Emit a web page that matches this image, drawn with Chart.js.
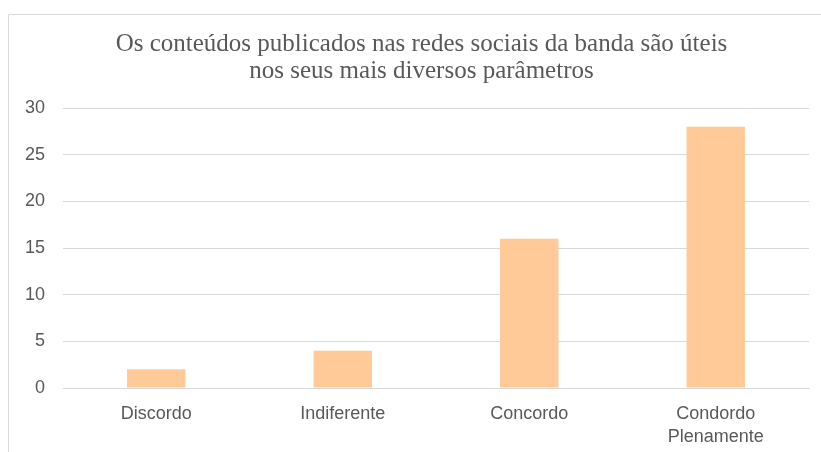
<!DOCTYPE html>
<html>
<head>
<meta charset="utf-8">
<script src="https://cdn.jsdelivr.net/npm/chart.js@4"></script>
<style>
  html, body { margin: 0; padding: 0; background: #fff; }
  #wrap { width: 821px; height: 452px; }
</style>
</head>
<body>
<div id="wrap"><canvas id="chart" width="821" height="452"></canvas></div>
<script>
// ── Data ──
const categories = ['Discordo', 'Indiferente', 'Concordo', ['Condordo', 'Plenamente']];
const values     = [2, 4, 16, 28];
const titleLines = ['Os conteúdos publicados nas redes sociais da banda são úteis', 'nos seus mais diversos parâmetros'];
const yMin = 0, yMax = 30, yStep = 5;

const textColor = '#595959';
const gridColor = '#d9d9d9';
const sansFont  = '"Liberation Sans", sans-serif';

// frame around the chart (left and top edges are visible)
const framePlugin = {
  id: 'frame',
  afterLayout(chart) {
    // title in the original sits centred on the whole frame, not the plot
    if (chart.titleBlock) chart.titleBlock.left = 34;
  },
  beforeDraw(chart) {
    const ctx = chart.ctx;
    ctx.save();
    ctx.strokeStyle = '#d9d9d9';
    ctx.lineWidth = 1;
    ctx.beginPath();
    ctx.moveTo(8.5, chart.height);
    ctx.lineTo(8.5, 14.5);
    ctx.lineTo(chart.width, 14.5);
    ctx.stroke();
    ctx.restore();
  },
};

new Chart(document.getElementById('chart').getContext('2d'), {
  type: 'bar',
  data: {
    labels: categories,
    datasets: [{
      data: values,
      backgroundColor: '#ffca97',
      borderWidth: 0,
      categoryPercentage: 1,
      barPercentage: 0.313,
    }],
  },
  plugins: [framePlugin],
  options: {
    responsive: false,
    animation: false,
    layout: { padding: { left: 0, right: 12, top: 0, bottom: 0 } },
    plugins: {
      legend: { display: false },
      tooltip: { enabled: false },
      title: {
        display: true,
        text: titleLines,
        color: textColor,
        font: { family: '"Liberation Serif", serif', size: 25, weight: 'normal', lineHeight: 1.08 },
        padding: { top: 31, bottom: 23 },
      },
    },
    scales: {
      x: {
        grid: { display: false },
        border: { color: gridColor, width: 1 },
        ticks: { color: textColor, font: { family: sansFont, size: 18, lineHeight: 1.25 }, padding: 7, maxRotation: 0 },
        afterFit(scale) { scale.height = 64; },
      },
      y: {
        min: yMin, max: yMax,
        ticks: { stepSize: yStep, color: textColor, font: { family: sansFont, size: 18 }, padding: 18 },
        grid: { color: gridColor, lineWidth: 1, drawTicks: false },
        border: { display: false },
        afterFit(scale) { scale.width = 63; },
      },
    },
  },
});
</script>
</body>
</html>
